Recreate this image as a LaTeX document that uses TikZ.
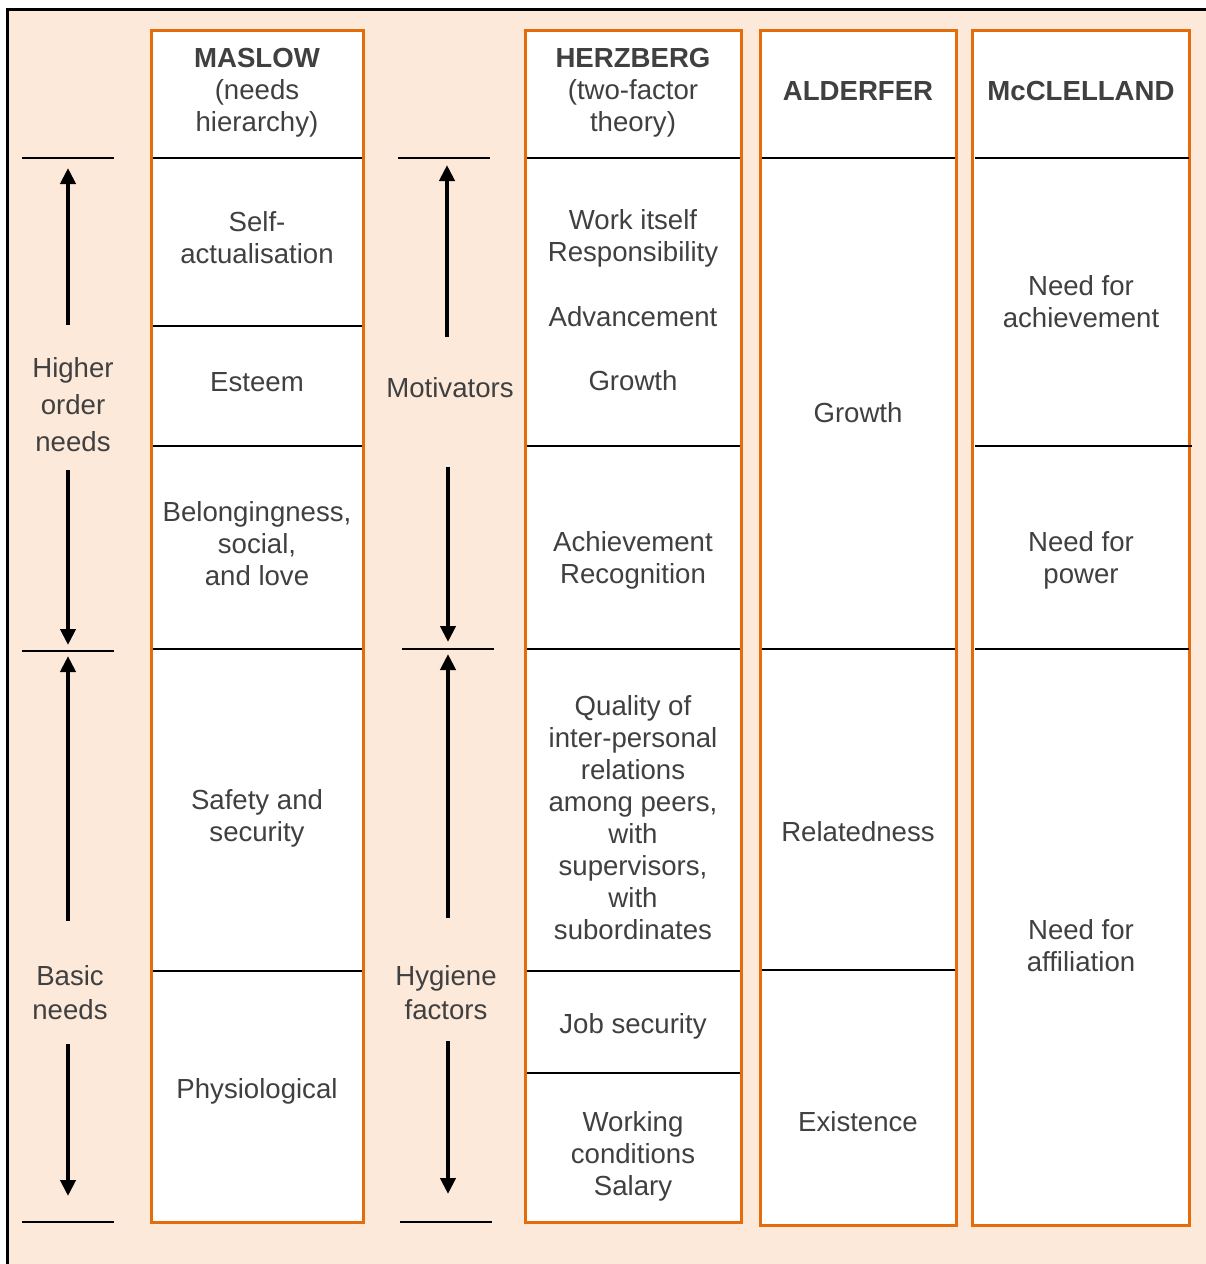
\documentclass[tikz,border=0pt]{standalone}
\usepackage{fontspec}
\setmainfont{Liberation Sans}
\usetikzlibrary{arrows.meta}
\definecolor{bgpeach}{HTML}{FCE9DA}
\definecolor{boxorange}{HTML}{E46C0A}
\definecolor{txtgray}{HTML}{404040}
\begin{document}
\begin{tikzpicture}[x=1pt,y=-1pt,
  colbox/.style={draw=boxorange,line width=3pt,fill=white},
  sep/.style={draw=black,line width=1.8pt},
  tick/.style={draw=black,line width=2pt},
  bigarrow/.style={draw=black,line width=4pt,-{Triangle[length=16pt,width=15pt]}},
  lbl/.style={text=txtgray,align=center,inner sep=0pt,font=\fontsize{27.6}{32}\selectfont},
  hdr/.style={lbl,font=\fontsize{27.6}{32}\selectfont},
  side/.style={lbl,font=\fontsize{27.6}{37}\selectfont},
  side2/.style={lbl,font=\fontsize{27.6}{34}\selectfont}]
\useasboundingbox (0,0) rectangle (1206,1264);
\fill[white] (0,0) rectangle (1206,1264);
\fill[bgpeach] (7,9) rectangle (1206,1264);
\draw[black,line width=3pt] (7,1264) -- (7,9) -- (1206,9);

% column boxes
\draw[colbox] (151,30) rectangle (363,1222);
\draw[colbox] (525,30) rectangle (741,1222);
\draw[colbox] (760,30) rectangle (956,1225);
\draw[colbox] (972,30) rectangle (1189,1225);

% separators Maslow
\foreach \yy in {158,326,446,649,971} \draw[sep] (152.5,\yy) -- (361.5,\yy);
% separators Herzberg
\foreach \yy in {158,446,649,971,1073} \draw[sep] (526.5,\yy) -- (739.5,\yy);
% separators Alderfer
\foreach \yy in {158,649,970} \draw[sep] (761.5,\yy) -- (954.5,\yy);
% separators McClelland
\draw[sep] (975,158) -- (1189,158);
\draw[sep] (975,446) -- (1192,446);
\draw[sep] (975,649) -- (1189,649);

% left ticks
\draw[tick] (22,158) -- (114,158);
\draw[tick] (22,651) -- (114,651);
\draw[tick] (22,1222) -- (114,1222);
\draw[tick] (398,158) -- (490,158);
\draw[tick] (402,649) -- (494,649);
\draw[tick] (400,1222) -- (492,1222);

% arrow endpoints
\coordinate (a1s) at (68,325); \coordinate (a1e) at (68,168);
\coordinate (a2s) at (68,470); \coordinate (a2e) at (68,645);
\coordinate (a3s) at (68,921); \coordinate (a3e) at (68,656);
\coordinate (a4s) at (68,1044); \coordinate (a4e) at (68,1196);
\coordinate (b1s) at (447,337); \coordinate (b1e) at (447,165);
\coordinate (b2s) at (448,467); \coordinate (b2e) at (448,642);
\coordinate (b3s) at (448,918); \coordinate (b3e) at (448,654);
\coordinate (b4s) at (448,1041); \coordinate (b4e) at (448,1194);
\draw[bigarrow] (a1s) -- (a1e);
\draw[bigarrow] (a2s) -- (a2e);
\draw[bigarrow] (a3s) -- (a3e);
\draw[bigarrow] (a4s) -- (a4e);
\draw[bigarrow] (b1s) -- (b1e);
\draw[bigarrow] (b2s) -- (b2e);
\draw[bigarrow] (b3s) -- (b3e);
\draw[bigarrow] (b4s) -- (b4e);

% side labels
\node[side] (higher) at (73,405) {Higher\\order\\needs};
\node[lbl] (motiv) at (450,388) {Motivators};
\node[side2] (basic) at (70,993) {Basic\\needs};
\node[side2] (hyg) at (446,993) {Hygiene\\factors};

% Maslow
\node[hdr] (mh) at (257,93) {\textbf{MASLOW}\\(needs\\hierarchy)};
\node[lbl] (m1) at (257,238) {Self-\\actualisation};
\node[lbl] (m2) at (257,382) {Esteem};
\node[lbl] (m3) at (257,544) {Belongingness,\\social,\\and love};
\node[lbl] (m4) at (257,818) {Safety and\\security};
\node[lbl] (m5) at (257,1091) {Physiological};

% Herzberg
\node[hdr] (hh) at (633,93) {\textbf{HERZBERG}\\(two-factor\\theory)};
\node[lbl] (h1) at (633,238) {Work itself\\Responsibility};
\node[lbl] (h2) at (633,317) {Advancement};
\node[lbl] (h3) at (633,381) {Growth};
\node[lbl] (h4) at (633,560) {Achievement\\Recognition};
\node[lbl] (h5) at (633,818) {Quality of\\inter-personal\\relations\\among peers,\\with\\supervisors,\\with\\subordinates};
\node[lbl] (h6) at (633,1026) {Job security};
\node[lbl] (h7) at (633,1156) {Working\\conditions\\Salary};

% Alderfer
\node[hdr] (ah) at (858,91) {\textbf{ALDERFER}};
\node[lbl] (a1) at (858,413) {Growth};
\node[lbl] (a2) at (858,832) {Relatedness};
\node[lbl] (a3) at (858,1122) {Existence};

% McClelland
\node[hdr] (ch) at (1081,91) {\textbf{McCLELLAND}};
\node[lbl] (c1) at (1081,302) {Need for\\achievement};
\node[lbl] (c2) at (1081,560) {Need for\\power};
\node[lbl] (c3) at (1081,946) {Need for\\affiliation};
\end{tikzpicture}
\end{document}
